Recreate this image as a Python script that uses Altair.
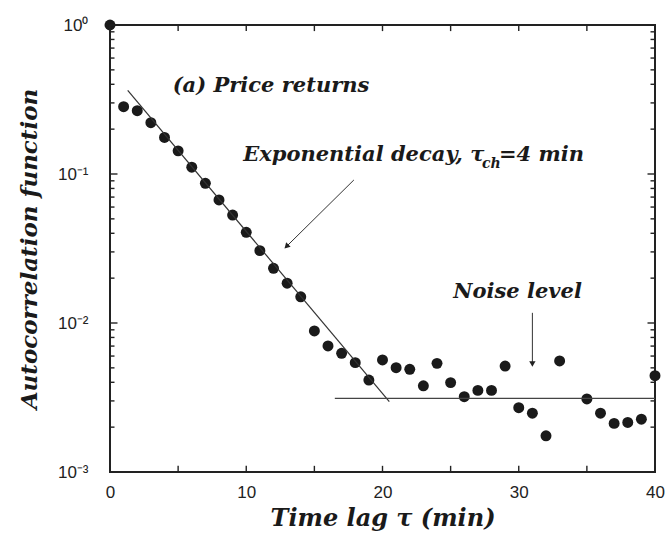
import altair as alt
import pandas as pd

# ---- data ----
lags = list(range(0, 34)) + [35, 36, 37, 38, 39, 40]
acf = [1.0, 0.283, 0.266, 0.221, 0.176, 0.143, 0.111, 0.0866, 0.067, 0.053,
       0.0406, 0.0306, 0.0233, 0.0185, 0.0150, 0.00884, 0.00701, 0.00626, 0.00542, 0.00414,
       0.00565, 0.00501, 0.00489, 0.00379, 0.00536, 0.00398, 0.0032, 0.00353, 0.00353, 0.00514,
       0.0027, 0.00248, 0.00175, 0.00556,
       0.00309, 0.00248, 0.00212, 0.00215, 0.00226, 0.00443]

fit_x = [1.3, 20.5]
fit_y = [0.364, 0.00297]

noise_x = [16.5, 40.0]
noise_y = [0.00312, 0.00312]

x_tick_values = [0, 10, 20, 30, 40]
x_minor_ticks = [0, 5, 10, 15, 20, 25, 30, 35, 40]
y_tick_values = [0.001, 0.01, 0.1, 1.0]
y_minor_ticks = [2e-3, 3e-3, 4e-3, 5e-3, 6e-3, 7e-3, 8e-3, 9e-3,
                 2e-2, 3e-2, 4e-2, 5e-2, 6e-2, 7e-2, 8e-2, 9e-2,
                 0.2, 0.3, 0.4, 0.5, 0.6, 0.7, 0.8, 0.9]

ann_text = ["(a) Price returns", "Exponential decay, τ", "=4 min", "Noise level"]
ann_x = [4.6, 9.78, 28.55, 25.2]
ann_y = [0.39, 0.134, 0.134, 0.0161]

sub_text = ["ch"]
sub_x = [27.3]
sub_y = [0.116]

arrow_x = [17.9, 31.0]
arrow_y = [0.0912, 0.0117]
arrow_x2 = [12.95, 31.0]
arrow_y2 = [0.0326, 0.0053]
arrow_angle = [225, 180]

# ---- tables ----
pts = pd.DataFrame({"lag": lags, "acf": acf})
fit = pd.DataFrame({"lag": fit_x, "acf": fit_y})
noise = pd.DataFrame({"lag": noise_x, "acf": noise_y})
ann = pd.DataFrame({"ax": ann_x, "ay": ann_y, "t": ann_text})
sub = pd.DataFrame({"ax": sub_x, "ay": sub_y, "t": sub_text})
arrows = pd.DataFrame({"px": arrow_x, "py": arrow_y, "px2": arrow_x2, "py2": arrow_y2,
                       "ang": arrow_angle})

# inward tick segments built from the tick lists (lengths in data units)
hx, hx2, hy = [], [], []
for v in y_tick_values:
    hx += [0.0, 40.0]; hx2 += [0.55, 39.45]; hy += [v, v]
for v in y_minor_ticks:
    hx += [0.0, 40.0]; hx2 += [0.33, 39.67]; hy += [v, v]
hticks = pd.DataFrame({"hx": hx, "hx2": hx2, "hy": hy})

vx, vy, vy2 = [], [], []
for v in x_minor_ticks:
    vx += [v, v]; vy += [0.001, 1.0]; vy2 += [0.0011, 0.91]
vticks = pd.DataFrame({"vx": vx, "vy": vy, "vy2": vy2})

xs = alt.Scale(domain=[0, 40], nice=False, zero=False)
ys = alt.Scale(type="log", domain=[0.001, 1], nice=False)

label_expr = ("datum.value >= 0.5 ? '10⁰' : datum.value >= 0.05 ? '10⁻¹' : "
              "datum.value >= 0.005 ? '10⁻²' : '10⁻³'")

serif = "DejaVu Serif"
sans = "Liberation Sans"
ink = "#1a1a1a"

points = alt.Chart(pts).mark_circle(size=120, color=ink, opacity=1, clip=False).encode(
    x=alt.X("lag:Q", scale=xs,
            axis=alt.Axis(values=x_tick_values, ticks=False, domain=False, grid=False,
                          labelFlush=False, labelFont=sans, labelFontSize=17,
                          labelColor="#222", labelPadding=12,
                          title="Time lag τ (min)", titleFont=serif,
                          titleFontStyle="italic", titleFontWeight="bold",
                          titleFontSize=24, titleColor=ink, titlePadding=6)),
    y=alt.Y("acf:Q", scale=ys,
            axis=alt.Axis(values=y_tick_values, ticks=False, domain=False, grid=False,
                          labelFlush=False, labelExpr=label_expr, labelFont=sans,
                          labelFontSize=17, labelColor="#222", labelPadding=22,
                          title="Autocorrelation function", titleFont=serif,
                          titleFontStyle="italic", titleFontWeight="bold",
                          titleFontSize=23, titleColor=ink, titlePadding=16)),
)

fit_line = alt.Chart(fit).mark_line(color="#333", strokeWidth=1.2).encode(
    x=alt.X("lag:Q", scale=xs), y=alt.Y("acf:Q", scale=ys))
noise_line = alt.Chart(noise).mark_line(color="#444", strokeWidth=1.2).encode(
    x=alt.X("lag:Q", scale=xs), y=alt.Y("acf:Q", scale=ys))

htick_marks = alt.Chart(hticks).mark_rule(color="#222", strokeWidth=1.4).encode(
    x=alt.X("hx:Q", scale=xs), x2=alt.X2("hx2:Q"), y=alt.Y("hy:Q", scale=ys))
vtick_marks = alt.Chart(vticks).mark_rule(color="#222", strokeWidth=1.4).encode(
    x=alt.X("vx:Q", scale=xs), y=alt.Y("vy:Q", scale=ys), y2=alt.Y2("vy2:Q"))

arrow_lines = alt.Chart(arrows).mark_rule(color="#333", strokeWidth=1).encode(
    x=alt.X("px:Q", scale=xs), x2="px2:Q", y=alt.Y("py:Q", scale=ys), y2="py2:Q")
arrow_heads = alt.Chart(arrows).mark_point(shape="triangle-up", filled=True, size=40,
                                           color="#222", opacity=1).encode(
    x=alt.X("px2:Q", scale=xs), y=alt.Y("py2:Q", scale=ys),
    angle=alt.Angle("ang:Q", scale=None))

texts = alt.Chart(ann).mark_text(font=serif, fontStyle="italic", fontWeight="bold",
                                 fontSize=21, align="left", baseline="middle",
                                 color=ink).encode(
    x=alt.X("ax:Q", scale=xs), y=alt.Y("ay:Q", scale=ys), text="t:N")
sub_texts = alt.Chart(sub).mark_text(font=serif, fontStyle="italic", fontWeight="bold",
                                     fontSize=14, align="left", baseline="middle",
                                     color=ink).encode(
    x=alt.X("ax:Q", scale=xs), y=alt.Y("ay:Q", scale=ys), text="t:N")

chart = alt.layer(points, fit_line, noise_line, arrow_lines, arrow_heads,
                  texts, sub_texts, htick_marks, vtick_marks).properties(
    width=545, height=447,
    autosize=alt.AutoSizeParams(type="none"),
    padding={"left": 110, "top": 25, "right": 11, "bottom": 62},
    background="white",
).configure_view(stroke="#222", strokeWidth=2)

chart.save("out.html", embed_options={"renderer": "svg", "actions": False})
